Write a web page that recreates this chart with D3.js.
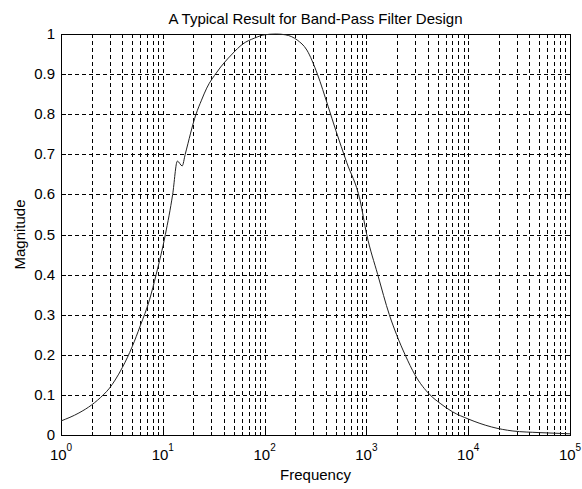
<!DOCTYPE html>
<html>
<head>
<meta charset="utf-8">
<script src="https://cdn.jsdelivr.net/npm/d3@7"></script>
<style>
    html, body { margin: 0; padding: 0; background: #fff; }
    text { font-family: 'Liberation Sans', Arial, sans-serif; fill: #000; }
</style>
</head>
<body>
<div id="chart"></div>
<script>
'use strict';

// values
const frequency = [1, 1.5, 2, 2.6, 3, 3.4, 4, 5, 6, 7.4, 8.6, 10.6, 12.5, 13.9, 15.5, 16.6, 21.2, 24, 27, 34, 48, 61, 80, 100, 130, 160, 209, 260, 330, 420, 500, 640, 865, 1007, 1292, 1680, 1980, 2400, 3000, 4220, 5300, 7000, 10000, 17000, 27500, 50000, 100000];
const magnitude = [0.035, 0.055, 0.075, 0.1, 0.117, 0.137, 0.168, 0.22, 0.272, 0.337, 0.4, 0.5, 0.6, 0.683, 0.671, 0.7, 0.8, 0.835, 0.865, 0.905, 0.95, 0.975, 0.99, 0.998, 1.0, 0.998, 0.985, 0.96, 0.9, 0.82, 0.76, 0.68, 0.586, 0.5, 0.4, 0.3, 0.25, 0.2, 0.15, 0.1, 0.079, 0.058, 0.04, 0.02, 0.01, 0.006, 0.003];
const xDecades = [0, 1, 2, 3, 4, 5];
const yTicks = [0, 0.1, 0.2, 0.3, 0.4, 0.5, 0.6, 0.7, 0.8, 0.9, 1];
const yTickLabels = ['0', '0.1', '0.2', '0.3', '0.4', '0.5', '0.6', '0.7', '0.8', '0.9', '1'];

const chartTitle = 'A Typical Result for Band-Pass Filter Design';
const xTitle = 'Frequency';
const yTitle = 'Magnitude';

let width = 582,
    height = 489,
    margin = { top: 34, right: 12, bottom: 54, left: 61 };

let svg = d3.select('#chart').append('svg')
    .attr('width', width)
    .attr('height', height);

let x = d3.scaleLog()
    .domain([1, 100000])
    .range([margin.left, width - margin.right]);

let y = d3.scaleLinear()
    .domain([0, 1])
    .range([height - margin.bottom, margin.top]);

// every 1..9 step inside each decade, the way matlab draws a log grid
let minor = [];
xDecades.slice(0, -1).forEach(function (d) {
    for (let k = 2; k <= 9; k++) minor.push(k * Math.pow(10, d));
});
let majors = xDecades.map(function (d) { return Math.pow(10, d); });

/*
* grid
 */
let grid = svg.append('g').attr('id', 'grid')
    .style('stroke', '#000')
    .style('stroke-width', 1)
    .style('stroke-dasharray', '4,3')
    .attr('shape-rendering', 'crispEdges');

grid.selectAll('.vgrid')
    .data(minor.concat(majors.slice(1, -1)))
    .enter()
    .append('line')
    .attr('x1', function (d) { return Math.round(x(d)) + 0.5; })
    .attr('x2', function (d) { return Math.round(x(d)) + 0.5; })
    .attr('y1', y(1))
    .attr('y2', y(0));

grid.selectAll('.hgrid')
    .data(yTicks.slice(1, -1))
    .enter()
    .append('line')
    .attr('y1', function (d) { return Math.round(y(d)) + 0.5; })
    .attr('y2', function (d) { return Math.round(y(d)) + 0.5; })
    .attr('x1', x(1))
    .attr('x2', x(100000));

/*
* ticks on all four sides, pointing in
 */
let ticks = svg.append('g').attr('id', 'ticks')
    .style('stroke', '#000')
    .style('stroke-width', 1)
    .attr('shape-rendering', 'crispEdges');

function tickX(list, len) {
    list.forEach(function (d) {
        let px = Math.round(x(d)) + 0.5;
        ticks.append('line').attr('x1', px).attr('x2', px).attr('y1', y(0)).attr('y2', y(0) - len);
        ticks.append('line').attr('x1', px).attr('x2', px).attr('y1', y(1)).attr('y2', y(1) + len);
    });
}
tickX(majors, 5);
tickX(minor, 3);

yTicks.forEach(function (d) {
    let py = Math.round(y(d)) + 0.5;
    ticks.append('line').attr('x1', x(1)).attr('x2', x(1) + 5).attr('y1', py).attr('y2', py);
    ticks.append('line').attr('x1', x(100000)).attr('x2', x(100000) - 5).attr('y1', py).attr('y2', py);
});

/*
* box
 */
svg.append('rect')
    .attr('x', Math.round(x(1)) + 0.5)
    .attr('y', Math.round(y(1)) + 0.5)
    .attr('width', Math.round(x(100000)) - Math.round(x(1)))
    .attr('height', Math.round(y(0)) - Math.round(y(1)))
    .style('fill', 'none')
    .style('stroke', '#000')
    .style('stroke-width', 1)
    .attr('shape-rendering', 'crispEdges');

/*
* the response curve
 */
let points = frequency.map(function (f, i) { return [f, magnitude[i]]; });

svg.append('path')
    .datum(points)
    .attr('d', d3.line()
        .x(function (d) { return x(d[0]); })
        .y(function (d) { return y(d[1]); })
        .curve(d3.curveMonotoneX))
    .style('fill', 'none')
    .style('stroke', '#222')
    .style('stroke-width', 1);

/*
* labels
 */
svg.selectAll('.ylabel')
    .data(yTicks)
    .enter()
    .append('text')
    .text(function (d, i) { return yTickLabels[i]; })
    .attr('text-anchor', 'end')
    .attr('font-size', 15)
    .attr('x', x(1) - 6)
    .attr('y', function (d) { return y(d) + 5; });

let xl = svg.selectAll('.xlabel')
    .data(xDecades)
    .enter()
    .append('text')
    .attr('text-anchor', 'middle')
    .attr('font-size', 15)
    .attr('x', function (d) { return x(Math.pow(10, d)); })
    .attr('y', y(0) + 25);

xl.append('tspan').text('10');
xl.append('tspan')
    .attr('font-size', 10)
    .attr('dy', -9)
    .text(function (d) { return d; });

svg.append('text')
    .text(chartTitle)
    .attr('text-anchor', 'middle')
    .attr('font-size', 15)
    .attr('x', (x(1) + x(100000)) / 2)
    .attr('y', 24);

svg.append('text')
    .text(xTitle)
    .attr('text-anchor', 'middle')
    .attr('font-size', 15)
    .attr('x', (x(1) + x(100000)) / 2)
    .attr('y', y(0) + 45);

svg.append('text')
    .text(yTitle)
    .attr('text-anchor', 'middle')
    .attr('font-size', 15)
    .attr('transform', 'translate(25,' + (y(0) + y(1)) / 2 + ') rotate(-90)');
</script>
</body>
</html>
